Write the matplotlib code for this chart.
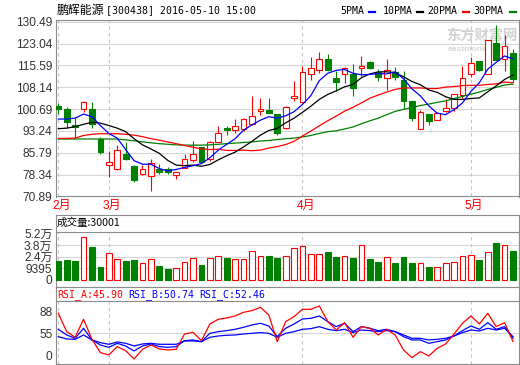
import numpy as np
import matplotlib
matplotlib.use("Agg")
import matplotlib.pyplot as plt
from matplotlib import transforms
from matplotlib.lines import Line2D

# ---------------- data ----------------
title_name = "鹏辉能源"
title_info = "[300438] 2016-05-10 15:00"
month_labels = ["2月", "3月", "4月", "5月"]
month_idx = [0, 6, 29, 49]

opens = [101.9, 100.8, 95.3, 100.64, 100.64, 90.54, 81.7, 80.3, 85.3, 81.3,
         78.5, 77.94, 80.3, 80.2, 78.2, 80.6, 83.4, 87.6, 83.7, 89.6,
         94.2, 93.7, 93.8, 95.5, 99.9, 100.3, 99.05, 94.2, 104.4, 103.0,
         112.6, 113.9, 117.8, 111.3, 112.7, 112.8, 114.6, 116.7, 113.2, 111.2,
         113.2, 110.6, 103.5, 93.8, 99.05, 97.1, 99.9, 101.0, 105.5, 112.6,
         117.1, 112.6, 123.1, 117.8, 119.7]
highs = [102.6, 101.4, 97.6, 103.3, 103.0, 91.3, 86.5, 88.3, 89.6, 81.5,
         81.7, 83.7, 82.0, 81.1, 79.4, 85.3, 89.9, 87.9, 89.9, 95.0,
         95.0, 97.2, 97.8, 105.3, 104.4, 104.4, 99.1, 101.9, 110.3, 115.5,
         118.4, 120.1, 119.4, 113.8, 115.2, 116.0, 118.9, 117.1, 114.4, 117.7,
         114.9, 113.8, 103.6, 100.3, 99.1, 99.6, 104.1, 106.0, 115.5, 118.6,
         117.2, 124.3, 129.4, 126.0, 121.2]
lows = [98.95, 94.2, 91.0, 99.6, 94.2, 85.3, 77.4, 79.8, 83.4, 75.7,
        78.3, 72.9, 78.5, 78.5, 76.9, 80.5, 82.8, 82.3, 83.0, 89.5,
        91.7, 92.4, 93.2, 95.3, 98.6, 99.2, 91.7, 94.0, 103.6, 102.7,
        110.5, 112.9, 113.8, 106.9, 109.7, 105.3, 112.1, 114.3, 110.3, 107.2,
        110.5, 100.8, 96.7, 93.8, 95.1, 96.9, 99.6, 99.9, 104.4, 111.8,
        113.6, 112.6, 117.3, 113.6, 110.1]
closes = [100.87, 96.2, 94.5, 103.25, 95.54, 86.0, 82.6, 86.8, 83.6, 76.4,
          80.3, 82.3, 79.4, 79.4, 79.2, 83.6, 85.3, 82.8, 89.4, 92.5,
          93.6, 94.9, 97.2, 98.4, 100.6, 99.5, 92.4, 101.3, 105.2, 113.2,
          114.6, 117.7, 113.9, 110.1, 114.6, 108.0, 115.4, 114.6, 111.5, 113.9,
          111.5, 103.5, 97.5, 99.6, 96.7, 99.3, 100.9, 106.0, 111.2, 116.3,
          113.9, 124.3, 117.4, 122.3, 111.0]

ma5 = [97.3, 97.3, 97.6, 99.0, 98.1, 95.1, 92.4, 90.8, 86.9, 83.1,
       81.9, 81.9, 80.4, 79.6, 80.1, 80.8, 81.4, 82.1, 84.1, 86.7,
       88.7, 90.6, 93.5, 95.3, 96.9, 98.1, 97.6, 98.4, 99.8, 102.3,
       105.3, 110.4, 112.9, 113.9, 114.2, 112.9, 112.4, 112.5, 112.8, 112.7,
       113.4, 111.0, 107.6, 105.2, 101.8, 99.3, 98.8, 100.5, 102.8, 106.7,
       109.7, 114.3, 116.6, 118.8, 117.8]
ma10 = [94.0, 94.2, 94.7, 95.5, 96.2, 95.9, 95.1, 94.2, 93.0, 90.6,
        88.5, 87.1, 85.6, 83.2, 81.6, 81.4, 81.6, 81.2, 81.8, 83.4,
        84.8, 86.0, 87.8, 89.7, 91.8, 93.4, 94.1, 96.0, 97.6, 99.6,
        101.7, 104.0, 105.7, 106.9, 108.3, 109.1, 111.4, 112.7, 113.4, 113.4,
        113.1, 111.7, 110.1, 109.0, 107.2, 106.4, 104.9, 104.0, 104.0, 104.3,
        104.5, 106.6, 108.6, 110.8, 112.3]
ma20 = [90.7, 90.7, 90.8, 91.7, 92.1, 92.3, 92.3, 92.3, 92.1, 91.8,
        91.3, 90.6, 90.1, 89.5, 88.9, 88.3, 87.7, 87.1, 86.9, 87.0,
        86.6, 86.6, 86.7, 86.5, 86.7, 87.4, 87.9, 88.6, 89.7, 91.5,
        93.2, 95.0, 96.7, 98.3, 100.0, 101.3, 102.8, 104.4, 105.5, 106.5,
        107.4, 107.9, 107.9, 107.9, 107.7, 107.7, 108.2, 108.4, 108.7, 108.8,
        108.8, 109.1, 109.3, 109.9, 109.7]
ma30 = [90.5, 90.5, 90.5, 90.5, 90.5, 90.5, 90.5, 90.5, 90.2, 89.9,
        89.5, 89.2, 88.9, 88.7, 88.5, 88.4, 88.4, 88.4, 88.5, 88.7,
        88.9, 89.1, 89.3, 89.5, 89.8, 90.0, 90.3, 90.6, 90.8, 91.2,
        91.7, 92.4, 93.0, 93.3, 93.9, 94.6, 95.7, 96.7, 97.6, 98.8,
        99.9, 100.6, 101.2, 101.9, 102.4, 103.0, 103.5, 104.3, 105.0, 105.8,
        106.5, 107.4, 108.1, 108.9, 109.2]
ma_names = ["5PMA", "10PMA", "20PMA", "30PMA"]

volumes = [19660, 20690, 19660, 44150, 34150, 13450, 27940, 21380, 19660, 20690,
           17590, 21380, 14490, 11380, 12420, 18620, 22420, 15520, 22420, 24490,
           22760, 21380, 21380, 29660, 24830, 24830, 22760, 24490, 32770, 34830,
           26560, 26560, 28970, 23800, 24490, 22760, 35870, 21730, 18620, 23450,
           17590, 23800, 17590, 17250, 13450, 13110, 17250, 18620, 24490, 25520,
           20690, 28630, 38280, 35870, 30001]
vol_label = "成交量:30001"
vol_ticks = [0, 12000, 24000, 36000, 48000]
vol_tick_labels = ["0", "9395", "2.4万", "3.8万", "5.2万"]

rsi_a = [85, 57.5, 49, 76, 46, 26, 22.5, 35, 29, 16.5,
         31, 37.5, 31.5, 30, 31, 54, 56.5, 44, 69, 76,
         78, 81, 86.5, 89, 94, 82.5, 42.5, 72.5, 80, 91,
         91, 96, 72.5, 60, 71, 49, 65, 62.5, 52.5, 61,
         52.5, 30, 18.5, 27.5, 21, 32.5, 39, 54, 70, 81,
         69, 85, 65, 71, 42.5]
rsi_b = [61, 52.5, 47.5, 62.5, 45, 37.5, 34, 40, 36, 28.5,
         36, 39, 35, 34, 35, 44, 45, 42.5, 55, 57.5,
         59, 61, 64, 67.5, 70, 66, 50, 62.5, 69, 76.5,
         77.5, 81, 72.5, 65, 70, 57.5, 65, 62.5, 59, 61,
         57.5, 50, 45, 45, 40, 42.5, 45, 51, 59, 66,
         61, 71, 61, 65, 47.5]
rsi_c = [50, 46.5, 46, 52.5, 45, 41, 38.5, 42, 40, 36,
         39, 40, 38.5, 38.5, 38.5, 43.5, 43.5, 42.5, 49, 51,
         52, 52.5, 54, 55, 56, 55, 49, 55, 57.5, 61,
         62, 65, 61, 59, 61, 56, 60, 59, 57.5, 59,
         57.5, 52.5, 47.5, 47.5, 45, 46, 47.5, 51, 56, 60,
         58.5, 62.5, 60, 62.5, 50]
rsi_labels = ["RSI_A:45.90", "RSI_B:50.74", "RSI_C:52.46"]
rsi_ticks = [22, 55, 88]
rsi_tick_labels = ["0", "55", "88"]

price_ticks = [70.89, 78.34, 85.79, 93.24, 100.69, 108.14, 115.59, 123.04, 130.49]

# ---------------- style ----------------
RED = "#ff0000"
GREEN = "#008000"
BLUE = "#0000ff"
BLACK = "#000000"
FRAME = "#8c8c8c"
GRID = "#d6d6d6"
DASH = "#c4c4c4"
TXT = "#333333"
TICK_FAM = ["Liberation Sans", "Noto Sans CJK SC"]
MONO = ["DejaVu Sans Mono", "Noto Sans CJK SC"]
CJK = ["Noto Sans CJK SC", "DejaVu Sans"]

W, H = 520, 365
fig = plt.figure(figsize=(W / 100, H / 100), dpi=100)
fig.patch.set_facecolor("white")


def px_axes(x0, y0, x1, y1):
    return fig.add_axes([x0 / W, 1 - y1 / H, (x1 - x0) / W, (y1 - y0) / H])


def ftxt(x, y, s, **kw):
    return fig.text(x / W, 1 - y / H, s, **kw)


def style_axes(ax):
    for sp in ax.spines.values():
        sp.set_color(FRAME)
        sp.set_linewidth(0.8)
    ax.set_xticks([])
    ax.tick_params(axis="y", length=0, pad=2.2, labelsize=8.6, labelcolor=TXT)
    for lab in ax.get_yticklabels():
        lab.set_family(TICK_FAM)


n = len(closes)
x = np.arange(n)
XL = (-0.33, 54.71)
o = np.array(opens); c = np.array(closes)
hi = np.array(highs); lo = np.array(lows)
up = c >= o
col = np.where(up, RED, GREEN)

# ---------------- main price panel ----------------
ax = px_axes(55.5, 20, 519, 196.5)
ax.set_xlim(*XL)
ax.set_ylim(70.89, 131.07)
ax.set_yticks(price_ticks)
ax.set_yticklabels([f"{t:.2f}" for t in price_ticks])
style_axes(ax)
for t in price_ticks:
    ax.axhline(t, color=GRID, lw=0.8, zorder=0.5)
for mi in month_idx:
    ax.axvline(mi, color=DASH, lw=0.8, ls=(0, (3, 3)), zorder=0.6)

# watermark
ax.text(0.842, 0.905, "东方财富网", transform=ax.transAxes, fontsize=10.3,
        family=CJK, fontweight="bold", color="#d2d2d2", ha="left", va="center", zorder=1)
ax.text(0.845, 0.835, "eastmoney.com", transform=ax.transAxes, fontsize=6.0,
        family=["Liberation Sans"], fontweight="bold", color="#d8d8d8",
        ha="left", va="center", zorder=1)

ax.vlines(x, lo, hi, colors=col, lw=0.8, zorder=2)
body_bot = np.minimum(o, c)
body_h = np.maximum(np.abs(c - o), 0.12)
ax.bar(x, body_h, bottom=body_bot, width=0.68,
       color=np.where(up, "white", GREEN), edgecolor=col, lw=0.8, zorder=3)

ax.plot(x, ma30, color=GREEN, lw=0.9, zorder=4)
ax.plot(x, ma20, color=RED, lw=0.9, zorder=4)
ax.plot(x, ma10, color=BLACK, lw=0.9, zorder=4)
ax.plot(x, ma5, color=BLUE, lw=0.9, zorder=4)

# month labels under main panel
tr = transforms.blended_transform_factory(ax.transData, fig.transFigure) + \
    transforms.ScaledTranslation(-6 / 100, 0, fig.dpi_scale_trans)
for lab, mi in zip(month_labels, month_idx):
    fig.text(mi, 1 - 205.5 / H, lab, transform=tr, color=RED, fontsize=8.6,
             family=TICK_FAM, ha="left", va="center")

# title and legend
ftxt(56.5, 10.5, title_name, family=CJK, fontsize=8.6, color=BLACK, va="center")
ftxt(105.5, 10.5, title_info, family=MONO, fontsize=7.1, color=BLACK, va="center")
leg_x = [340, 383, 427, 473]
sw_x = [369, 417, 463, 510]
for name, lx, sx, cc in zip(ma_names, leg_x, sw_x, [BLUE, BLACK, RED, GREEN]):
    ftxt(lx, 10.5, name, family=MONO, fontsize=7.1, color=BLACK, va="center")
    fig.add_artist(Line2D([sx / W, (sx + 5.5) / W], [1 - 12 / H] * 2, color=cc,
                          lw=1.6, transform=fig.transFigure))

# ---------------- volume panel ----------------
VPX = 1034.6
axv = px_axes(55.5, 214.5, 519, 287.3)
axv.set_xlim(*XL)
axv.set_ylim(-7.3 * VPX, 65.5 * VPX)
vsep = 47.7 * VPX
axv.set_yticks(vol_ticks)
axv.set_yticklabels(vol_tick_labels)
style_axes(axv)
for t in vol_ticks[1:4]:
    axv.axhline(t, color=GRID, lw=0.8, zorder=0.5)
axv.axhline(vsep, color=FRAME, lw=0.8, zorder=5)
axv.vlines(month_idx, 0, vsep, colors=DASH, lw=0.8, linestyles=(0, (3, 3)), zorder=0.6)
axv.bar(x, volumes, width=0.68, color=np.where(up, "white", GREEN),
        edgecolor=col, lw=0.8, zorder=3)
ftxt(57, 223, vol_label, family=CJK, fontsize=7.6, color=BLACK, va="center")

# ---------------- RSI panel ----------------
axr = px_axes(55.5, 287.3, 519, 363.5)
axr.set_xlim(*XL)
axr.set_ylim(9.7, 124.0)
rsep = 103.9
axr.set_yticks(rsi_ticks)
axr.set_yticklabels(rsi_tick_labels)
style_axes(axr)
axr.axhline(55, color=GRID, lw=0.8, zorder=0.5)
axr.axhline(rsep, color=FRAME, lw=0.8, zorder=5)
axr.vlines(month_idx, 9.7, rsep, colors=DASH, lw=0.8, linestyles=(0, (3, 3)), zorder=0.6)
axr.plot(x, rsi_c, color=BLUE, lw=0.9, zorder=3)
axr.plot(x, rsi_b, color=BLUE, lw=0.9, zorder=3)
axr.plot(x, rsi_a, color=RED, lw=0.9, zorder=4)
for lab, lx, cc in zip(rsi_labels, [57, 128.3, 199.6], [RED, BLUE, BLUE]):
    ftxt(lx, 294.5, lab, family=MONO, fontsize=7.1, color=cc, va="center")

fig.savefig("out.png", dpi=100, facecolor="white")
